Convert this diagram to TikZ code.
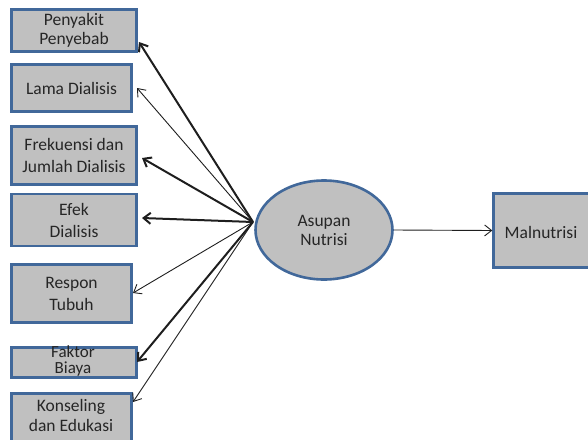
\documentclass[tikz,border=0pt]{standalone}
\usepackage{fontspec}
\setmainfont{Carlito}
\usetikzlibrary{arrows.meta,shapes.geometric}
\definecolor{boxfill}{HTML}{C0C0C0}
\definecolor{boxline}{HTML}{41689A}
\definecolor{arr}{HTML}{1E1E1E}
\definecolor{txt}{HTML}{262626}
\tikzset{
  box/.style={draw=boxline, fill=boxfill, line width=2.6pt, rectangle, inner sep=0pt, align=center, font=\fontsize{17.5}{20}\selectfont, text=txt},
  lbl/.style={inner sep=0pt, align=center, font=\fontsize{17.5}{20}\selectfont, text=txt},
  thickarr/.style={draw=arr, line width=2pt, -{Straight Barb[length=7pt,width=11pt,line width=2pt]}},
  thinarr/.style={draw=arr, line width=0.9pt, -{Straight Barb[length=7pt,width=11pt,line width=0.9pt]}},
}
\begin{document}
\begin{tikzpicture}[x=1pt,y=-1pt]
\useasboundingbox (0,0) rectangle (588,439);
\clip (0,0) rectangle (588,439);
\node[box, minimum width=125pt, minimum height=42pt, font=\fontsize{17.5}{19}\selectfont] (p) at (74,30.5) {Penyakit\\Penyebab};
\node[box, minimum width=120pt, minimum height=47pt] (l) at (71.5,88) {Lama Dialisis};
\node[box, minimum width=125pt, minimum height=58pt, font=\fontsize{17.5}{21.5}\selectfont] (f) at (74,155.5) {Frekuensi dan\\Jumlah Dialisis};
\node[box, minimum width=125pt, minimum height=52pt, font=\fontsize{17.5}{22}\selectfont] (e) at (74,220) {Efek\\Dialisis};
\node[box, minimum width=120pt, minimum height=58pt, font=\fontsize{17.5}{22}\selectfont] (r) at (71.5,293.5) {Respon\\Tubuh};
\node[box, minimum width=125pt, minimum height=30pt] (fa) at (74,362.5) {};
\node[lbl, font=\fontsize{17}{16}\selectfont] (fat) at (73,361) {Faktor\\Biaya};
\node[box, minimum width=120pt, minimum height=60pt, anchor=north] (k) at (71.5,392.3) {};
\node[lbl] (kt) at (71,415) {Konseling\\dan Edukasi};
\node[box, ellipse, minimum width=137pt, minimum height=99pt, font=\fontsize{17.5}{19}\selectfont] (a) at (324,230) {Asupan\\Nutrisi};
\node[box, minimum width=120pt, minimum height=74pt, anchor=west] (m) at (492.3,230.5) {};
\node[lbl] (mt) at (541,232) {Malnutrisi};
\coordinate (src) at (253,222);
\draw[thickarr] (src) -- (139,42);
\draw[thinarr] (src) -- (137,88);
\draw[thickarr] (src) -- (142,158);
\draw[thickarr] (src) -- (142,218);
\draw[thinarr] (src) -- (133,293);
\draw[thickarr] (src) -- (137,362);
\draw[thinarr] (src) -- (133,402);
\draw[thinarr] (a.east) -- (m.west);
\end{tikzpicture}
\end{document}
